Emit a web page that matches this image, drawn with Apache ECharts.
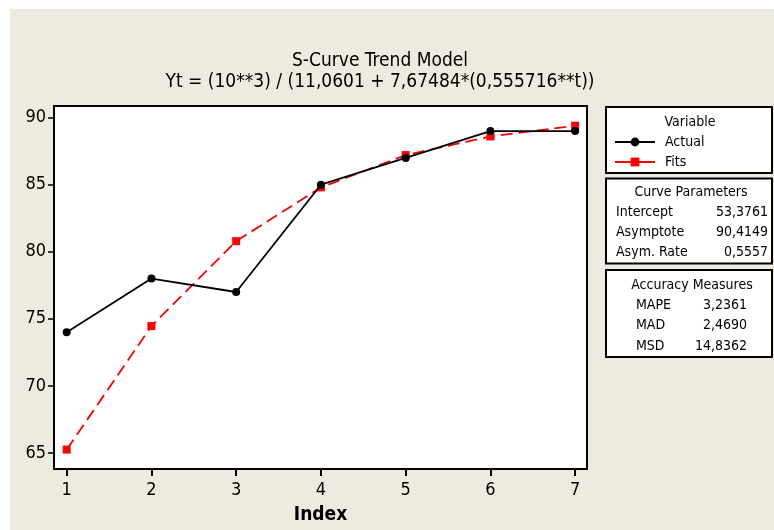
<!DOCTYPE html>
<html>
<head>
<meta charset="utf-8">
<script src="https://cdn.jsdelivr.net/npm/echarts@6/dist/echarts.min.js"></script>
<style>
html,body{margin:0;padding:0;background:#fff;}
#chart{width:774px;height:530px;}
</style>
</head>
<body>
<div id="chart"></div>
<script>
// ---- data ----
var indexValues = [1, 2, 3, 4, 5, 6, 7];
var actual = [74, 78, 77, 85, 87, 89, 89];
var fits = [65.25, 74.46, 80.79, 84.80, 87.21, 88.60, 89.40];
var xTicks = [1, 2, 3, 4, 5, 6, 7];
var yTicks = [65, 70, 75, 80, 85, 90];
var titleLines = ['S-Curve Trend Model', 'Yt = (10**3) / (11,0601 + 7,67484*(0,555716**t))'];
var curveParamNames = ['Intercept', 'Asymptote', 'Asym. Rate'];
var curveParamValues = ['53,3761', '90,4149', '0,5557'];
var accuracyNames = ['MAPE', 'MAD', 'MSD'];
var accuracyValues = ['3,2361', '2,4690', '14,8362'];

var FONT = '"DejaVu Sans Condensed", "DejaVu Sans"';
var BG = '#EEEAE0';

var chart = echarts.init(document.getElementById('chart'));

function pairs(xs, ys) { return xs.map(function (x, i) { return [x, ys[i]]; }); }
function txt(x, y, s, align, size) {
  return { type: 'text', x: x, y: y, style: { text: s, font: (size || 14) + 'px ' + FONT, fill: '#000', align: align, verticalAlign: 'middle' } };
}

var graphics = [
  { type: 'rect', shape: { x: 0, y: 0, width: 774, height: 9 }, style: { fill: '#ffffff' }, silent: true, z: -10 },
  { type: 'rect', shape: { x: 0, y: 0, width: 10, height: 530 }, style: { fill: '#ffffff' }, silent: true, z: -10 },
  { type: 'rect', shape: { x: 606, y: 107, width: 166, height: 66 }, style: { fill: '#ffffff', stroke: '#000', lineWidth: 2 }, z: -1 },
  { type: 'rect', shape: { x: 606, y: 178.5, width: 166, height: 85 }, style: { fill: '#ffffff', stroke: '#000', lineWidth: 2 }, z: -1 },
  { type: 'rect', shape: { x: 606, y: 270, width: 166, height: 87 }, style: { fill: '#ffffff', stroke: '#000', lineWidth: 2 }, z: -1 },
  txt(690, 122, 'Variable', 'center'),
  txt(691, 192, 'Curve Parameters', 'center'),
  txt(692, 285, 'Accuracy Measures', 'center')
];
curveParamNames.forEach(function (n, i) {
  graphics.push(txt(616, 212 + i * 20, n, 'left'));
  graphics.push(txt(768, 212 + i * 20, curveParamValues[i], 'right'));
});
accuracyNames.forEach(function (n, i) {
  graphics.push(txt(636, 305 + i * 20.5, n, 'left'));
  graphics.push(txt(747, 305 + i * 20.5, accuracyValues[i], 'right'));
});

var option = {
  backgroundColor: BG,
  animation: false,
  textStyle: { fontFamily: FONT },
  title: {
    text: titleLines.join('\n'),
    left: 375,
    top: 46,
    textAlign: 'center',
    textStyle: { fontFamily: FONT, fontSize: 19, fontWeight: 'normal', color: '#000', lineHeight: 21 }
  },
  legend: {
    orient: 'vertical',
    left: 609,
    top: 130,
    itemWidth: 40,
    itemHeight: 11,
    itemGap: 6,
    lineStyle: { type: 'solid', width: 2 },
    textStyle: { fontFamily: FONT, fontSize: 14, color: '#000', padding: [0, 0, 0, 5] },
    data: ['Actual', 'Fits']
  },
  grid: {
    left: 54, right: 187, top: 106, bottom: 59,
    show: true, backgroundColor: '#ffffff', borderColor: '#000', borderWidth: 2
  },
  xAxis: {
    type: 'value',
    min: 0.85, max: 7.14,
    name: 'Index',
    nameLocation: 'middle',
    nameGap: 37,
    nameTextStyle: { fontFamily: FONT, fontSize: 19, fontWeight: 'bold', color: '#000' },
    axisLine: { show: false },
    splitLine: { show: false },
    axisTick: { show: true, length: 7, lineStyle: { color: '#000', width: 2 }, customValues: xTicks },
    axisLabel: { fontFamily: FONT, fontSize: 18, color: '#000', margin: 12, customValues: xTicks }
  },
  yAxis: {
    type: 'value',
    min: 63.8, max: 90.87,
    axisLine: { show: false },
    splitLine: { show: false },
    axisTick: { show: true, length: 6, lineStyle: { color: '#000', width: 1.5 }, customValues: yTicks },
    axisLabel: { fontFamily: FONT, fontSize: 18, color: '#000', margin: 8, customValues: yTicks }
  },
  series: [
    {
      name: 'Actual', type: 'line', data: pairs(indexValues, actual),
      symbol: 'circle', symbolSize: 8,
      itemStyle: { color: '#000' },
      lineStyle: { color: '#000', width: 1.8 },
      z: 3
    },
    {
      name: 'Fits', type: 'line', data: pairs(indexValues, fits),
      symbol: 'rect', symbolSize: 8,
      itemStyle: { color: '#ff0000' },
      lineStyle: { color: '#ff0000', width: 1.8, type: [12, 6] },
      z: 2
    }
  ],
  graphic: graphics
};
chart.setOption(option);
</script>
</body>
</html>
